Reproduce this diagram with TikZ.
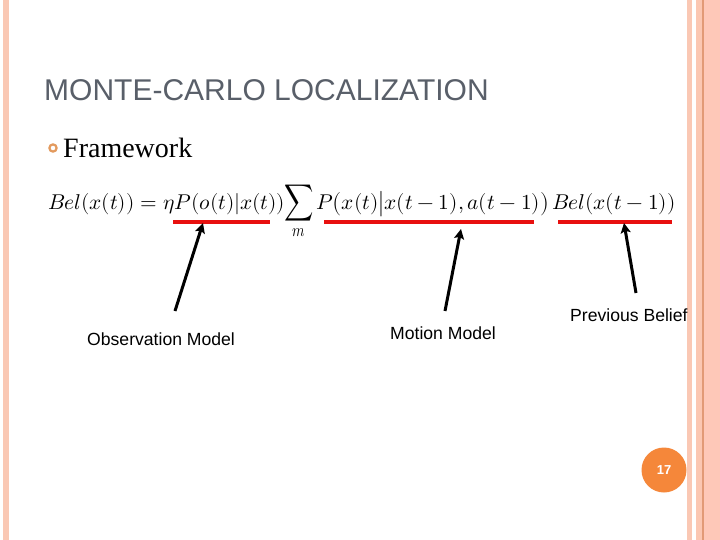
\documentclass[tikz,border=0pt]{standalone}
\usepackage{fontspec}
\usepackage{unicode-math}
\setmainfont{Liberation Serif}
\setsansfont{Liberation Sans}
\setmathfont{Latin Modern Math}
\usetikzlibrary{arrows.meta}
\definecolor{stripA}{HTML}{FAC8B4}
\definecolor{stripB}{HTML}{FBC7B2}
\definecolor{stripC}{HTML}{FEC8B8}
\definecolor{stripLine}{HTML}{E29A76}
\definecolor{titlegray}{HTML}{595F69}
\definecolor{bulletorange}{HTML}{E39A5E}
\definecolor{pageorange}{HTML}{F5873A}
\definecolor{underred}{HTML}{E8100F}
\tikzset{
  lbl/.style={font=\sffamily\fontsize{17.6}{20}\selectfont, anchor=base west, inner sep=0pt},
  eqpart/.style={font=\fontsize{21.4}{26}\selectfont, anchor=base west, inner sep=0pt},
  redbar/.style={draw=underred, line width=4.5pt},
  pointer/.style={draw=black, line width=3pt, -{Stealth[length=10pt,width=10pt,inset=2pt]}}
}
\begin{document}
\begin{tikzpicture}[x=1pt,y=-1pt]
\useasboundingbox (0,0) rectangle (720,540);
\fill[white] (0,0) rectangle (720,540);
% side strips
\fill[stripA] (3,0) rectangle (9,540);
\fill[stripA] (687,0) rectangle (692,540);
\fill[stripB] (696,0) rectangle (702,540);
\fill[stripLine] (702,0) rectangle (703.5,540);
\fill[stripC] (703.5,0) rectangle (720,540);
% title
\node[font=\sffamily\fontsize{30}{34}\selectfont, text=titlegray, anchor=base west, inner sep=0pt] (title) at (44,101) {MONTE-CARLO LOCALIZATION};
% bullet
\draw[bulletorange, line width=2.2pt] (53,148) circle (3.6);
\node[font=\fontsize{28}{32}\selectfont, anchor=base west, inner sep=0pt] (fw) at (63,158) {Framework};
% formula
\node[eqpart] (eq1) at (48,210) {$Bel(x(t)) = \eta P(o(t)|x(t))$};
\node[eqpart, anchor=center, xscale=0.95, yscale=1.2] (eq2) at (299,212) {$\displaystyle\sum_m$};
\node[eqpart] (eq3) at (316,210) {$P\big(x(t)\big|x(t-1),a(t-1)\big)$};
\node[eqpart] (eq4) at (552,210) {$Bel(x(t-1))$};
% underlines
\draw[redbar] (173,222) -- (270,222);
\draw[redbar] (324,222) -- (534,222);
\draw[redbar] (558,222) -- (672,222);
% labels
\node[lbl] (obs) at (87,345) {Observation Model};
\node[lbl] (mot) at (390,339) {Motion Model};
\node[lbl] (prev) at (570,321) {Previous Belief};
% arrows
\coordinate (t1) at (175,311);
\coordinate (h1) at (203,223);
\coordinate (t2) at (445,311);
\coordinate (h2) at (461,229);
\coordinate (t3) at (636,293);
\coordinate (h3) at (624,223);
\draw[pointer] (t1) -- (h1);
\draw[pointer] (t2) -- (h2);
\draw[pointer] (t3) -- (h3);
% page number
\node[circle, fill=pageorange, minimum size=45pt, inner sep=0pt, text=white, font=\sffamily\bfseries\fontsize{13}{15}\selectfont] (pg) at (664,470) {17};
\end{tikzpicture}
\end{document}
